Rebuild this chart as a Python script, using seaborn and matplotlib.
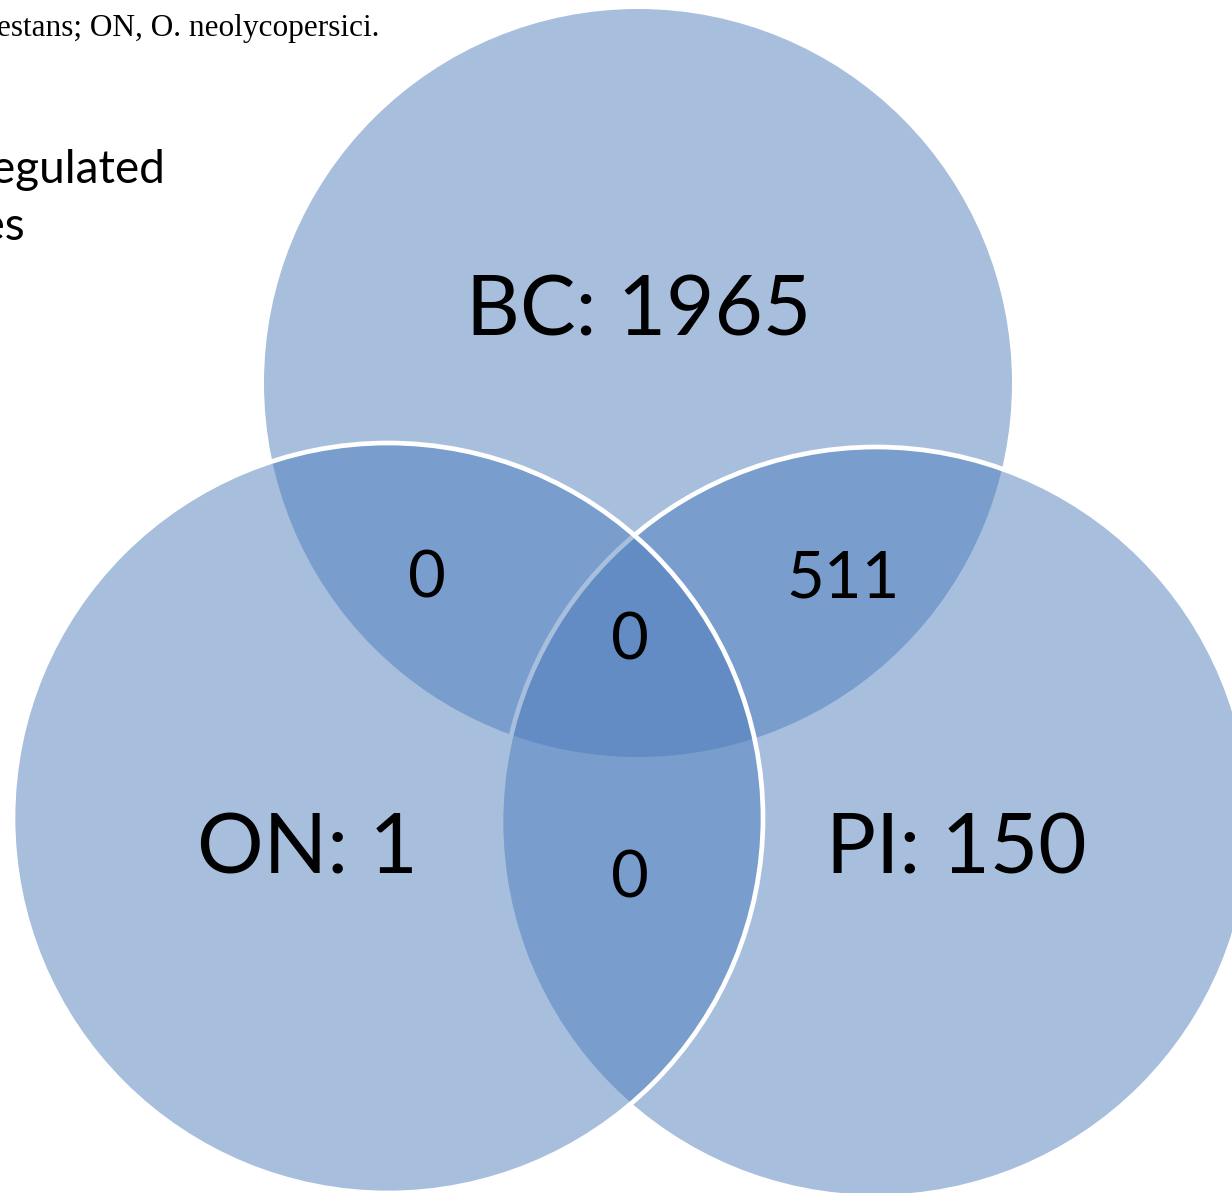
import matplotlib
matplotlib.use("Agg")
import matplotlib.pyplot as plt
from matplotlib.patches import Circle
import seaborn as sns

# ---- data ----
set_names = ["BC", "ON", "PI"]
set_counts = [1965, 1, 150]
overlap_names = ["BC&ON", "BC&PI", "ON&PI", "BC&ON&PI"]
overlap_counts = [0, 511, 0, 0]
caption_text = "estans; ON, O. neolycopersici."
side_lines = ["Upregulated", "genes"]

sns.set_theme(style="white")
plt.rcParams["font.family"] = ["Lato", "DejaVu Sans"]

base = sns.color_palette(["#4A7BBB"])[0]

W, H = 1232, 1193
fig = plt.figure(figsize=(W / 100, H / 100), dpi=100)
ax = fig.add_axes([0, 0, 1, 1])
ax.set_xlim(0, W)
ax.set_ylim(H, 0)
ax.set_aspect("equal")
ax.axis("off")

# circle geometry (layout)
geom = {
    "BC": ((638, 383), 374, False),
    "PI": ((876, 822), 375, True),
    "ON": ((388, 818), 375, True),
}
for name in ["BC", "PI", "ON"]:
    (cx, cy), r, edged = geom[name]
    ax.add_patch(Circle((cx, cy), r, facecolor=base, alpha=0.485, edgecolor="none", zorder=1))
    if edged:
        ax.add_patch(Circle((cx, cy), r, facecolor="none", edgecolor="white", lw=3.4, zorder=1))

# set labels
set_label_pos = {"BC": (639, 335), "ON": (307, 873), "PI": (956, 873)}
for n, c in zip(set_names, set_counts):
    x, y = set_label_pos[n]
    ax.text(x, y, f"{n}: {c}", fontsize=60, ha="center", va="baseline", color="black", zorder=3)

overlap_pos = {"BC&ON": (427, 597), "BC&PI": (843, 597), "ON&PI": (630, 898), "BC&ON&PI": (630, 660)}
for n, c in zip(overlap_names, overlap_counts):
    x, y = overlap_pos[n]
    ax.text(x, y, str(c), fontsize=47, ha="center", va="baseline", color="black", zorder=3)

# cropped surrounding text
ax.text(-3, 36, caption_text, fontsize=22.5, family=["Liberation Serif", "DejaVu Serif"],
        ha="left", va="baseline", color="black", zorder=3)
ax.text(165, 183, side_lines[0], fontsize=33, ha="right", va="baseline", color="black", zorder=3)
ax.text(25, 240, side_lines[1], fontsize=33, ha="right", va="baseline", color="black", zorder=3)

fig.savefig("out.png", dpi=100)
